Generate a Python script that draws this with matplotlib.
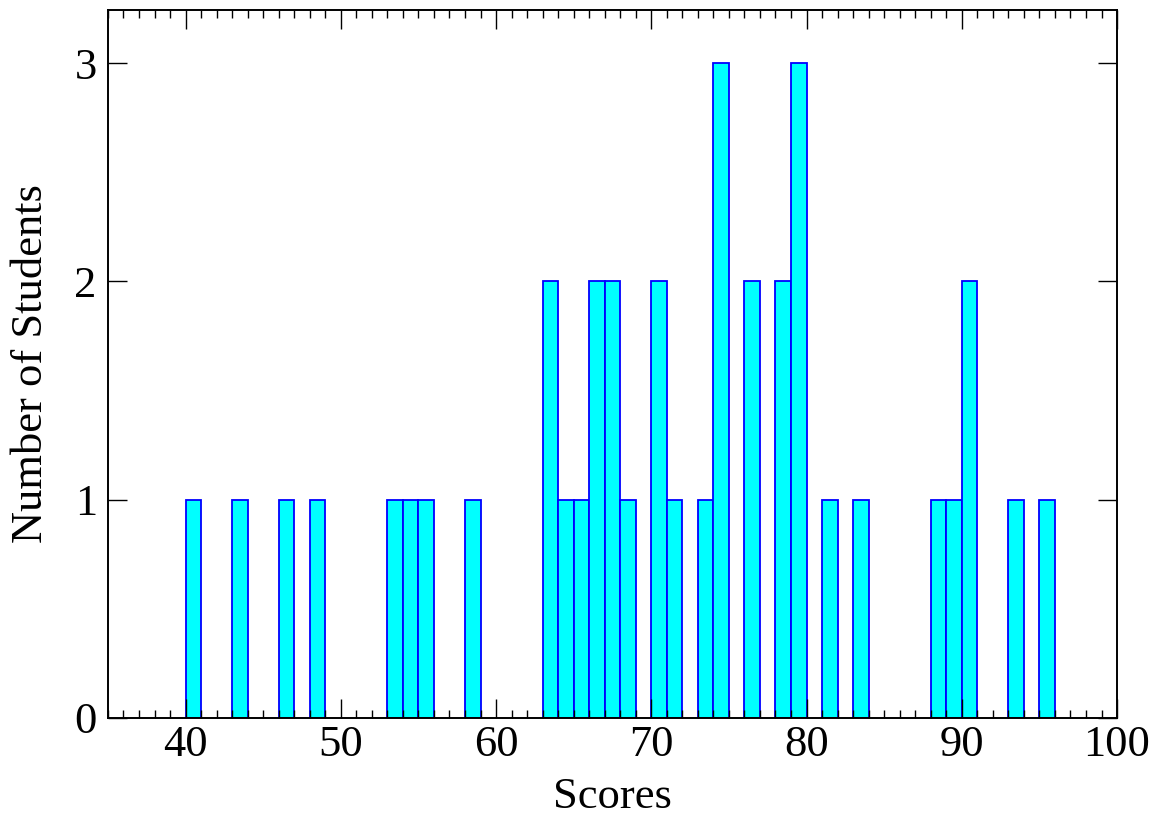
import matplotlib
matplotlib.use('Agg')

import matplotlib.pyplot as plt
from matplotlib.ticker import MultipleLocator

# -------------------------
# Data: left edge of each 1-point score bin, and how many students fell in it
# -------------------------
bin_start = [40, 43, 46, 48, 53, 54, 55, 58,
             63, 64, 65, 66, 67, 68, 70, 71, 73, 74,
             76, 78, 79, 81, 83, 88, 89, 90, 93, 95]
counts = [1, 1, 1, 1, 1, 1, 1, 1,
          2, 1, 1, 2, 2, 1, 2, 1, 1, 3,
          2, 2, 3, 1, 1, 1, 1, 2, 1, 1]

plt.rcParams['font.family'] = ['Liberation Serif', 'DejaVu Serif']
plt.rcParams['font.size'] = 32

fig = plt.figure(figsize=(11.62, 8.17), dpi=100)
ax = fig.add_axes([0.0929, 0.1212, 0.8684, 0.8666])

ax.bar(bin_start, counts, width=1.0, align='edge',
       color='#00ffff', edgecolor='#0000ff', linewidth=1.3)

ax.set_xlim(35, 100)
ax.set_ylim(0, 3.243)

ax.xaxis.set_major_locator(MultipleLocator(10))
ax.xaxis.set_minor_locator(MultipleLocator(1))
ax.yaxis.set_major_locator(MultipleLocator(1))

ax.tick_params(which='both', direction='in', top=True, right=True,
               width=1.0, color='black', labelsize=32)
ax.tick_params(which='major', length=14)
ax.tick_params(which='minor', length=6)
ax.tick_params(axis='x', pad=5)
ax.tick_params(axis='y', pad=8)

for s in ax.spines.values():
    s.set_linewidth(1.4)

ax.set_xlabel("Scores", labelpad=9)
ax.set_ylabel("Number of Students", labelpad=17)

plt.savefig("out.png", dpi=100)
